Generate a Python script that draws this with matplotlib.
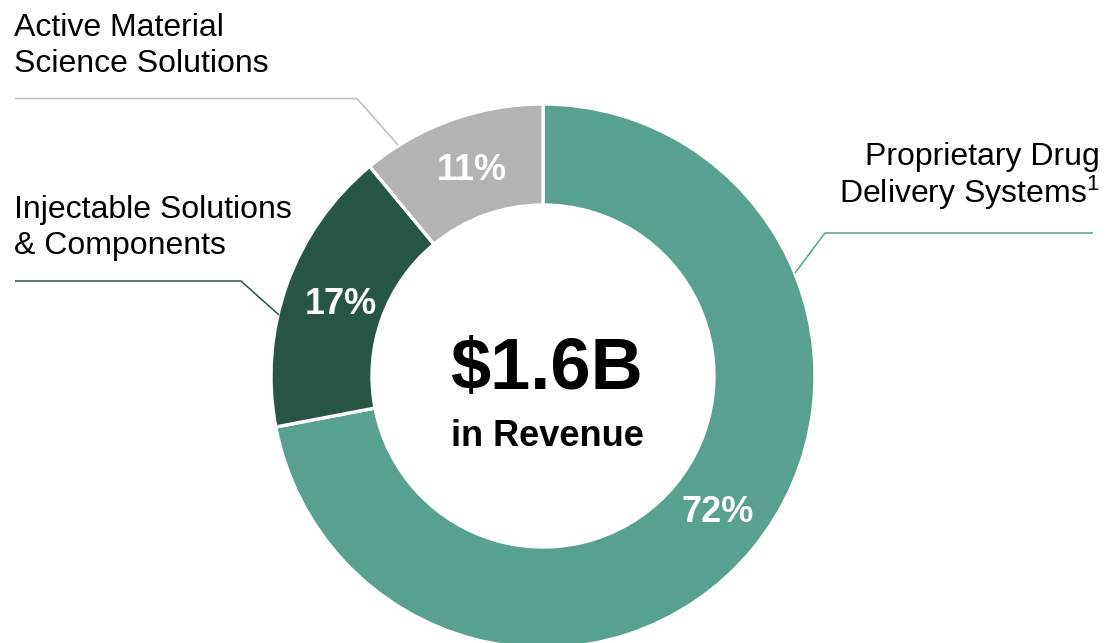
import matplotlib
matplotlib.use("Agg")
import matplotlib.pyplot as plt

plt.rcParams['font.family'] = ['Liberation Sans', 'DejaVu Sans']
plt.rcParams['mathtext.fontset'] = 'custom'
plt.rcParams['mathtext.rm'] = 'Liberation Sans'
plt.rcParams['mathtext.it'] = 'Liberation Sans'
plt.rcParams['mathtext.bf'] = 'Liberation Sans:bold'

# Data
segments = ["Proprietary Drug\nDelivery Systems$^{1}$",
            "Injectable Solutions\n& Components",
            "Active Material\nScience Solutions"]
shares = [72, 17, 11]
pct_labels = ["72%", "17%", "11%"]
colors = ["#58a190", "#275744", "#b3b3b4"]
total_text = r"\$1.6B"
sub_text = "in Revenue"

W, H = 1107, 643
fig = plt.figure(figsize=(W / 100, H / 100), dpi=100)
ax = fig.add_axes([0, 0, 1, 1])

def P(x, y):
    return x, H - y

cx, cy = P(543, 376)
R_out, R_in = 272, 171

wedges, _ = ax.pie(shares, colors=colors, startangle=90, counterclock=False,
                   radius=R_out, center=(cx, cy),
                   wedgeprops=dict(width=R_out - R_in, edgecolor="white", linewidth=2.4))

ax.set_xlim(0, W)
ax.set_ylim(0, H)
ax.set_aspect("equal")
ax.axis("off")

# Percentage labels
pct_pos = [P(718, 512), P(341, 304), P(472, 170)]
for (x, y), t in zip(pct_pos, pct_labels):
    ax.text(x, y, t, color="white", fontsize=26, fontweight="bold",
            ha="center", va="center")

# Center text
ax.text(*P(546, 370), total_text, fontsize=52, fontweight="bold",
        ha="center", va="center")
ax.text(*P(547, 436), sub_text, fontsize=26, fontweight="bold",
        ha="center", va="center")

# Category labels (one text per line so the baselines stay even)
prop_lines = segments[0].split("\n")
ax.text(*P(1100, 165), prop_lines[0], fontsize=23, ha="right", va="baseline")
ax.text(*P(1100, 203), prop_lines[1], fontsize=23, ha="right", va="baseline")
ax.text(*P(14, 195), segments[1], fontsize=23, ha="left", va="top",
        linespacing=1.28)
ax.text(*P(14, 13), segments[2], fontsize=23, ha="left", va="top",
        linespacing=1.28)

# Leader lines
def leader(pts, color):
    xs = [p[0] for p in pts]
    ys = [H - p[1] for p in pts]
    ax.plot(xs, ys, color=color, linewidth=1.1, solid_capstyle="butt")

leader([(1093, 233), (825, 233), (795, 273)], colors[0])
leader([(15, 281), (241, 281), (279, 315)], colors[1])
leader([(15, 98.5), (357, 98.5), (398, 145)], "#bdbdbd")

fig.savefig("out.png", dpi=100)
